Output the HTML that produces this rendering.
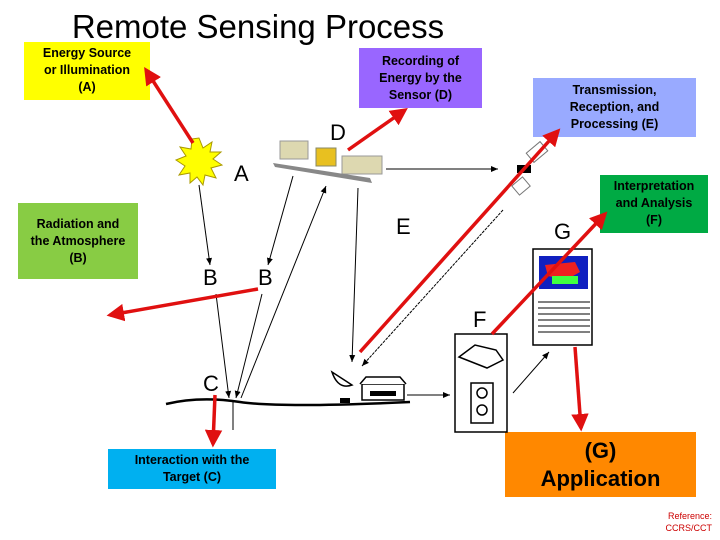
<!DOCTYPE html>
<html><head><style>
body{margin:0;width:720px;height:540px;background:#fff;overflow:hidden;position:relative;font-family:"Liberation Sans",sans-serif}
.b{position:absolute;text-align:center;font-size:12.5px;font-weight:bold;color:#000;display:flex;align-items:center;justify-content:center;line-height:17px}
</style></head><body>
<div style="position:absolute;left:0;width:516px;top:8px;text-align:center;font-size:33px">Remote Sensing Process</div>
<div class="b" style="left:24px;top:42px;width:126px;height:58px;background:#ffff00;align-items:flex-start;padding-top:3px;box-sizing:border-box">Energy Source<br>or Illumination<br>(A)</div>
<div class="b" style="left:359px;top:48px;width:123px;height:60px;background:#9966ff">Recording of<br>Energy by the<br>Sensor (D)</div>
<div class="b" style="left:533px;top:78px;width:163px;height:59px;background:#99aaff">Transmission,<br>Reception, and<br>Processing (E)</div>
<div class="b" style="left:600px;top:175px;width:108px;height:58px;background:#00aa44;align-items:flex-start;padding-top:3px;box-sizing:border-box">Interpretation<br>and Analysis<br>(F)</div>
<div class="b" style="left:18px;top:203px;width:120px;height:76px;background:#88cc44">Radiation and<br>the Atmosphere<br>(B)</div>
<div class="b" style="left:108px;top:449px;width:168px;height:40px;background:#00b0f0">Interaction with the<br>Target (C)</div>
<div class="b" style="left:505px;top:432px;width:191px;height:65px;background:#ff8800;font-size:22px;line-height:28px">(G)<br>Application</div>
<div style="position:absolute;left:650px;top:510px;font-size:9px;color:#c00;text-align:right;width:62px;line-height:12px">Reference:<br>CCRS/CCT</div>
<svg width="720" height="540" style="position:absolute;left:0;top:0" font-family="Liberation Sans" font-size="22">
<defs>
<marker id="k" markerWidth="8" markerHeight="8" refX="7" refY="4" orient="auto"><path d="M0,1 L7,4 L0,7z" fill="#000"/></marker>
<marker id="r" markerWidth="5" markerHeight="5" refX="4" refY="2.5" orient="auto"><path d="M0,0 L5,2.5 L0,5z" fill="#e01010"/></marker>
</defs>
<g fill="#ffff00" stroke="#aa9900"><polygon points="199,138 203,148 212,142 210,152 221,152 213,159 222,165 211,168 216,178 205,175 203,185 197,177 190,183 190,173 179,175 185,166 176,160 186,156 180,147 191,149 192,139"/></g>
<text x="234" y="181">A</text><text x="330" y="140">D</text><text x="203" y="285">B</text><text x="258" y="285">B</text><text x="203" y="391">C</text><text x="396" y="234">E</text><text x="473" y="327">F</text><text x="554" y="239">G</text>
<g fill="#ddd8b0" stroke="#999"><rect x="280" y="141" width="28" height="18"/><rect x="342" y="156" width="40" height="18"/></g>
<polygon points="273,163 370,178 372,183 275,167" fill="#888"/>
<rect x="316" y="148" width="20" height="18" fill="#e8c020" stroke="#886"/>
<path d="M166,404 Q200,396 240,402 T410,402" stroke="#000" stroke-width="2.5" fill="none"/>
<g stroke="#000" stroke-width="1" fill="none" marker-end="url(#k)">
<line x1="199" y1="185" x2="210" y2="265"/><line x1="293" y1="176" x2="268" y2="265"/>
<line x1="216" y1="294" x2="229" y2="398"/><line x1="262" y1="294" x2="236" y2="398"/>
<line x1="241" y1="398" x2="326" y2="186"/><line x1="358" y1="188" x2="352" y2="362"/>
<line x1="386" y1="169" x2="498" y2="169"/><line x1="503" y1="210" x2="362" y2="366" stroke-dasharray="3,1"/>
<line x1="407" y1="395" x2="450" y2="395"/><line x1="513" y1="393" x2="549" y2="352"/>
</g>
<line x1="233" y1="400" x2="233" y2="430" stroke="#000"/>
<g stroke="#000" fill="#fff" stroke-width="1.5"><path d="M332,372 Q338,390 352,385 Z"/><rect x="362" y="384" width="42" height="16"/><path d="M360,384 L366,377 L400,377 L406,384"/></g>
<rect x="340" y="398" width="10" height="5" fill="#000"/>
<rect x="370" y="391" width="26" height="5" fill="#000"/>
<g stroke="#000" fill="#fff" stroke-width="1.5"><rect x="455" y="334" width="52" height="98"/><rect x="533" y="249" width="59" height="96"/><path d="M459,357 L475,345 L496,350 L503,360 L487,368 Z"/><rect x="471" y="383" width="22" height="40"/><circle cx="482" cy="393" r="5"/><circle cx="482" cy="410" r="5"/></g>
<rect x="539" y="256" width="49" height="33" fill="#1020c0"/><path d="M545,265 L575,262 L580,272 L566,280 L548,276Z" fill="#ee2020"/><rect x="552" y="276" width="26" height="8" fill="#40ff40"/>
<g stroke="#000"><line x1="538" y1="302" x2="590" y2="302"/><line x1="538" y1="308" x2="590" y2="308"/><line x1="538" y1="314" x2="590" y2="314"/><line x1="538" y1="320" x2="590" y2="320"/><line x1="538" y1="326" x2="590" y2="326"/><line x1="538" y1="332" x2="590" y2="332"/></g>
<g stroke="#777" fill="#fff"><rect x="528" y="146" width="18" height="12" transform="rotate(-40 537 152)"/><rect x="514" y="180" width="14" height="12" transform="rotate(-40 521 186)"/></g>
<rect x="517" y="165" width="14" height="8" fill="#000"/>
<g stroke="#e01010" stroke-width="3.5" fill="none" marker-end="url(#r)">
<line x1="193" y1="143" x2="146" y2="70"/><line x1="348" y1="150" x2="405" y2="110"/>
<line x1="360" y1="352" x2="558" y2="131"/><line x1="492" y1="334" x2="605" y2="214"/>
<line x1="575" y1="347" x2="581" y2="428"/><line x1="258" y1="289" x2="110" y2="315"/>
<line x1="215" y1="395" x2="213" y2="444"/>
</g>
</svg>
</body></html>
